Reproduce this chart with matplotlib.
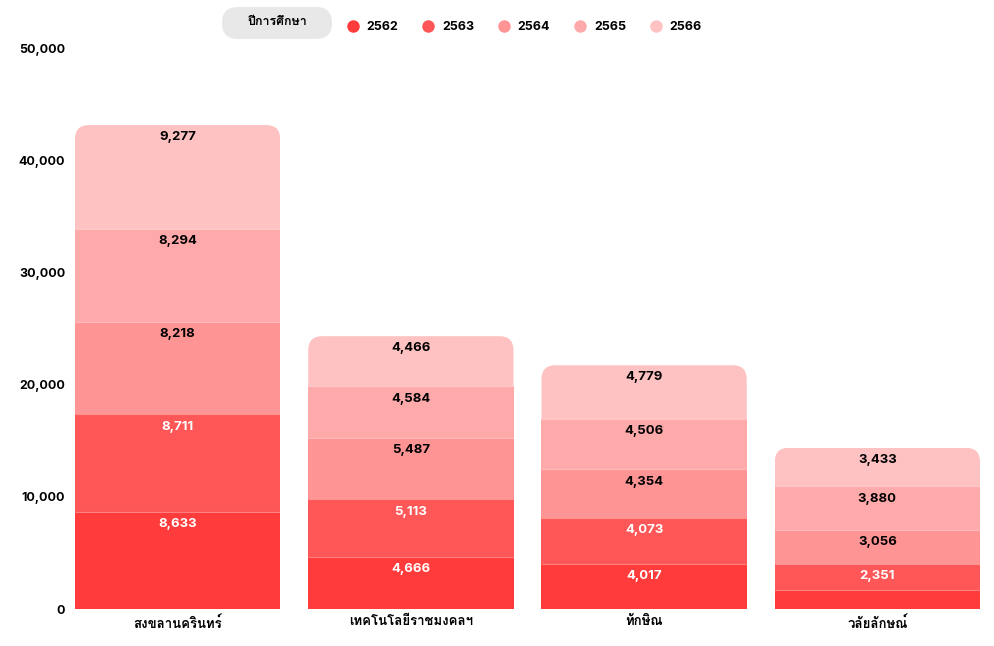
import numpy as np
import matplotlib
matplotlib.use("Agg")
from matplotlib import pyplot as plt
from matplotlib import font_manager
from matplotlib.ft2font import FT2Font
from matplotlib.patches import FancyBboxPatch
from matplotlib.lines import Line2D

universities = ["สงขลานครินทร์", "เทคโนโลยีราชมงคลฯ", "ทักษิณ", "วลัยลักษณ์"]
years = ["2562", "2563", "2564", "2565", "2566"]
v2562 = [8633, 4666, 4017, 1650]
v2563 = [8711, 5113, 4073, 2351]
v2564 = [8218, 5487, 4354, 3056]
v2565 = [8294, 4584, 4506, 3880]
v2566 = [9277, 4466, 4779, 3433]
yticks = [0, 10000, 20000, 30000, 40000, 50000]

colors = ["#ff3b3b", "#ff5757", "#ff9494", "#ffaaaa", "#ffc2c2"]
label_colors = ["white", "white", "black", "black", "black"]


def find_thai_font():
    # pick the first installed font that has Thai glyphs
    for f in font_manager.fontManager.ttflist:
        try:
            if 0x0E01 in FT2Font(f.fname).get_charmap():
                return f.name
        except Exception:
            continue
    return "DejaVu Sans"


thai = find_thai_font()
plt.rcParams["font.family"] = ["Inter", thai, "DejaVu Sans"]

W, H = 994, 646
fig = plt.figure(figsize=(W / 100, H / 100), dpi=100)
ax = fig.add_axes([61 / W, (H - 609) / H, (W - 61) / W, (609 - 48) / H])

x = np.arange(len(universities))
width = 0.88
series = [v2562, v2563, v2564, v2565, v2566]
ax.set_xlim(-0.5, len(universities) - 0.5)
ax.set_ylim(0, 50000)

# rounding radius for the top of each stack (~14 px)
px_x = (W - 61) / len(universities)
px_y = (609 - 48) / 50000
rx = 14 / px_x
ry = 14 / px_y

bottom = np.zeros(len(universities))
for i, (vals, col) in enumerate(zip(series, colors)):
    vals = np.array(vals, dtype=float)
    bars = ax.bar(x, vals, width, bottom=bottom, color=col, linewidth=0, zorder=2)
    if i == len(series) - 1:
        for j, b in enumerate(bars):
            clip = FancyBboxPatch(
                (x[j] - width / 2, 0),
                width,
                bottom[j] + vals[j],
                boxstyle=f"round,pad=0,rounding_size={rx}",
                mutation_aspect=ry / rx,
                transform=ax.transData,
            )
            b.set_clip_path(clip)
    if i > 0:
        ax.hlines(bottom, x - width / 2, x + width / 2, colors="white",
                  linewidth=0.8, alpha=0.35, zorder=3)
    for j in range(len(universities)):
        if i == 0 and j == 3:
            continue
        ax.annotate(
            f"{int(vals[j]):,}",
            (x[j], bottom[j] + vals[j]),
            xytext=(0, -4.5),
            textcoords="offset points",
            ha="center",
            va="top",
            fontsize=9.5,
            fontweight="bold",
            color=label_colors[i],
            zorder=4,
        )
    bottom += vals

for s in ax.spines.values():
    s.set_visible(False)
ax.set_xticks(x)
ax.set_xticklabels(universities, fontsize=9.5, fontweight="bold")
ax.set_yticks(yticks)
ax.set_yticklabels([f"{t:,}" for t in yticks], fontsize=9, fontweight="bold")
ax.tick_params(axis="both", length=0)
ax.tick_params(axis="y", pad=-3)
ax.tick_params(axis="x", pad=5)

# legend title pill
pill = FancyBboxPatch(
    (222 / W, 1 - 39 / H), 110 / W, 32 / H,
    boxstyle=f"round,pad=0,rounding_size={16 / W}",
    mutation_aspect=W / H,
    transform=fig.transFigure,
    facecolor="#e8e8e8",
    edgecolor="none",
)
fig.add_artist(pill)
fig.text(277 / W, 1 - 22 / H, "ปีการศึกษา", ha="center", va="center",
         fontsize=9, fontweight="bold")

handles = [
    Line2D([], [], marker="o", linestyle="none", markersize=9,
           markerfacecolor=c, markeredgecolor="none")
    for c in colors
]
fig.legend(
    handles,
    years,
    loc="center left",
    bbox_to_anchor=(329 / W, 1 - 27 / H),
    ncol=len(years),
    frameon=False,
    handletextpad=0.1,
    columnspacing=1.4,
    prop={"weight": "bold", "size": 9},
)

fig.savefig("out.png", dpi=100)
